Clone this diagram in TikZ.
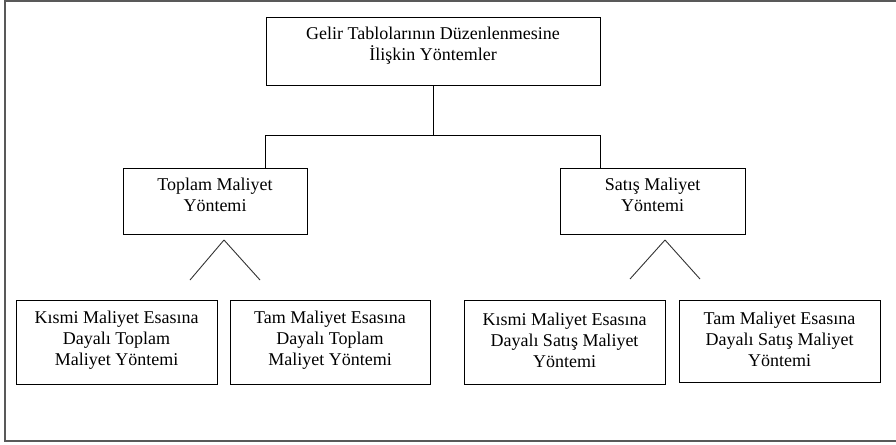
\documentclass[tikz,border=0pt]{standalone}
\usepackage{fontspec}
\setmainfont{Liberation Serif}
\usetikzlibrary{positioning}
\tikzset{
    box/.style={draw,line width=1pt,inner sep=0pt},
    txt/.style={align=center,font=\fontsize{18}{21}\selectfont,inner sep=0pt},
    frame/.style={line width=1.6pt,color=black!65},
    branch/.style={line width=0.9pt,color=black!80},
}
\begin{document}
\begin{tikzpicture}[x=1pt,y=-1pt]
\useasboundingbox (0,0) rectangle (896,444);
% outer frame, open on the right
\draw[frame] (896,1) -- (5,1) -- (5,441) -- (896,441);
% boxes
\node[box,minimum width=334,minimum height=67] (top) at (433,51.5) {};
\node[box,minimum width=184,minimum height=66] (midL) at (215,201) {};
\node[box,minimum width=185,minimum height=66] (midR) at (652.5,201) {};
\node[box,minimum width=201,minimum height=84] (kt) at (116.5,342) {};
\node[box,minimum width=200,minimum height=84] (tt) at (330,342) {};
\node[box,minimum width=201,minimum height=84] (ks) at (564.5,342) {};
\node[box,minimum width=201,minimum height=82] (ts) at (779.5,341) {};
% texts
\node[txt] (toptxt) at ([yshift=6pt]top.center) {Gelir Tablolarının Düzenlenmesine\\İlişkin Yöntemler};
\node[txt] (midLtxt) at ([yshift=6pt]midL.center) {Toplam Maliyet\\Yöntemi};
\node[txt] (midRtxt) at ([yshift=6pt]midR.center) {Satış Maliyet\\Yöntemi};
\node[txt] (kttxt) at ([yshift=2pt]kt.center) {Kısmi Maliyet Esasına\\Dayalı Toplam\\Maliyet Yöntemi};
\node[txt] (tttxt) at ([yshift=2pt]tt.center) {Tam Maliyet Esasına\\Dayalı Toplam\\Maliyet Yöntemi};
\node[txt] (kstxt) at ([yshift=2pt]ks.center) {Kısmi Maliyet Esasına\\Dayalı Satış Maliyet\\Yöntemi};
\node[txt] (tstxt) at ([yshift=2pt]ts.center) {Tam Maliyet Esasına\\Dayalı Satış Maliyet\\Yöntemi};
% tree lines
\coordinate (bar) at (433,135);
\draw[line width=1pt] (top.south) -- (bar);
\draw[line width=1pt] (midL.north -| top.west) -- (top.west |- bar) -- (top.east |- bar) -- (midR.north -| top.east);
% open branches
\coordinate (apexL) at (224,240);
\coordinate (apexR) at (665,240);
\draw[branch] (apexL) -- ++(-34,40);
\draw[branch] (apexL) -- ++(36,40);
\draw[branch] (apexR) -- ++(-35,39);
\draw[branch] (apexR) -- ++(35,39);
\end{tikzpicture}
\end{document}
